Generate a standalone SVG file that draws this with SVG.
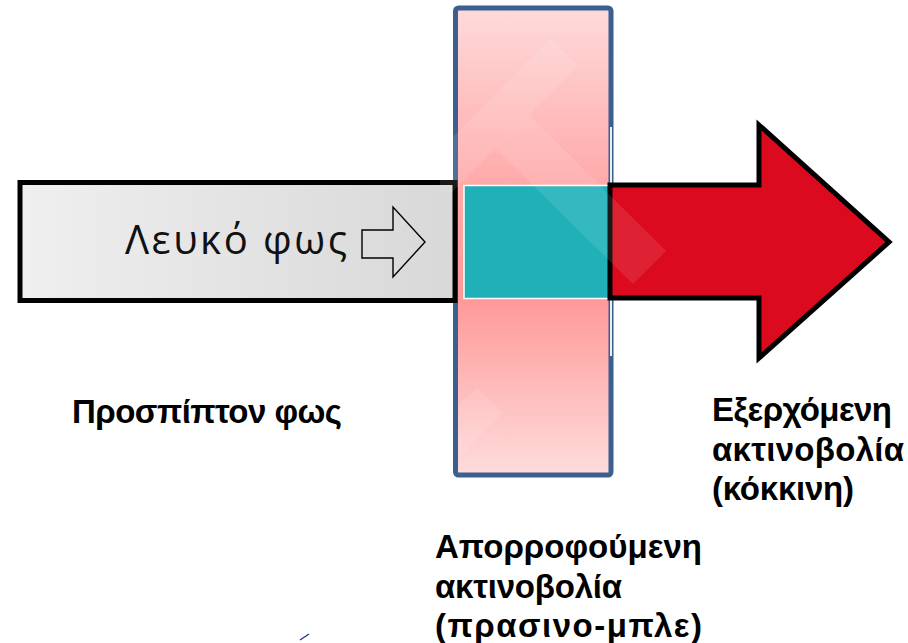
<svg xmlns="http://www.w3.org/2000/svg" width="908" height="643" viewBox="0 0 908 643">
  <style>
    .lbl { font-family: "Liberation Sans", Arial, sans-serif; font-weight: bold; font-size: 33px; fill: #000; }
    .inner { font-family: "Open Sans", "DejaVu Sans", sans-serif; font-size: 40px; fill: #111; }
    .wm { fill: #ffffff; opacity: 0.1; }
  </style>
  <defs>
    <linearGradient id="grayFill" x1="0" y1="0" x2="1" y2="0">
      <stop offset="0" stop-color="#efefef"/>
      <stop offset="1" stop-color="#d8d8d8"/>
    </linearGradient>
    <linearGradient id="pinkFill" x1="0" y1="0" x2="0" y2="1">
      <stop offset="0" stop-color="#fedada"/>
      <stop offset="0.38" stop-color="#ffa9a9"/>
      <stop offset="0.62" stop-color="#ff9898"/>
      <stop offset="1" stop-color="#fedcdc"/>
    </linearGradient>
  </defs>
  <rect width="908" height="643" fill="#ffffff"/>

  <g id="filter">
    <rect x="455.5" y="8" width="155.5" height="467" rx="3" fill="url(#pinkFill)" stroke="#3b5f8e" stroke-width="5"/>
    <line x1="611" y1="127" x2="611" y2="356" stroke="#ffffff" stroke-width="1.8"/>
  </g>

  <g id="absorbed">
    <rect x="464" y="185.5" width="145" height="113" fill="#1fb0b8" stroke="#ffffff" stroke-width="1.5"/>
  </g>

  <g id="incident">
    <rect x="20" y="182.5" width="435" height="118" fill="url(#grayFill)" stroke="#000" stroke-width="5"/>
    <text class="inner" x="125" y="254" textLength="222" lengthAdjust="spacing">Λευκό φως</text>
    <polygon points="362,230 393,230 393,207 425,242 393,277 393,258 362,258" fill="none" stroke="#000" stroke-width="1.4" stroke-linejoin="miter"/>
  </g>

  <g id="emerging">
    <polygon points="610,185 759,185 759,125 889,242 759,358 759,298 610,298" fill="#db0a1e" stroke="#000" stroke-width="5" stroke-linejoin="miter"/>
  </g>

  <g id="watermark">
    <polygon class="wm" points="440,150 551,38 578,66 529,115 452,192 440,192"/>
    <polygon class="wm" points="529,115 666,251 633,284 495,148"/>
    <polygon class="wm" points="477,388 503,413 458,458 458,406"/>
  </g>

  <g id="labels">
    <text class="lbl" x="72" y="423" textLength="270" lengthAdjust="spacing">Προσπίπτον φως</text>
    <text class="lbl" x="712" y="421" textLength="180" lengthAdjust="spacing">Εξερχόμενη</text>
    <text class="lbl" x="712" y="461" textLength="192" lengthAdjust="spacing">ακτινοβολία</text>
    <text class="lbl" x="712" y="500" textLength="142" lengthAdjust="spacing">(κόκκινη)</text>
    <text class="lbl" x="435" y="558" textLength="267" lengthAdjust="spacing">Απορροφούμενη</text>
    <text class="lbl" x="435" y="598" textLength="187" lengthAdjust="spacing">ακτινοβολία</text>
    <text class="lbl" x="435" y="637" textLength="267" lengthAdjust="spacing">(πρασινο-μπλε)</text>
  </g>

  <g id="connectors"></g>
  <line x1="300" y1="640" x2="309" y2="634" stroke="#2a3a9a" stroke-width="1.5"/>
</svg>
